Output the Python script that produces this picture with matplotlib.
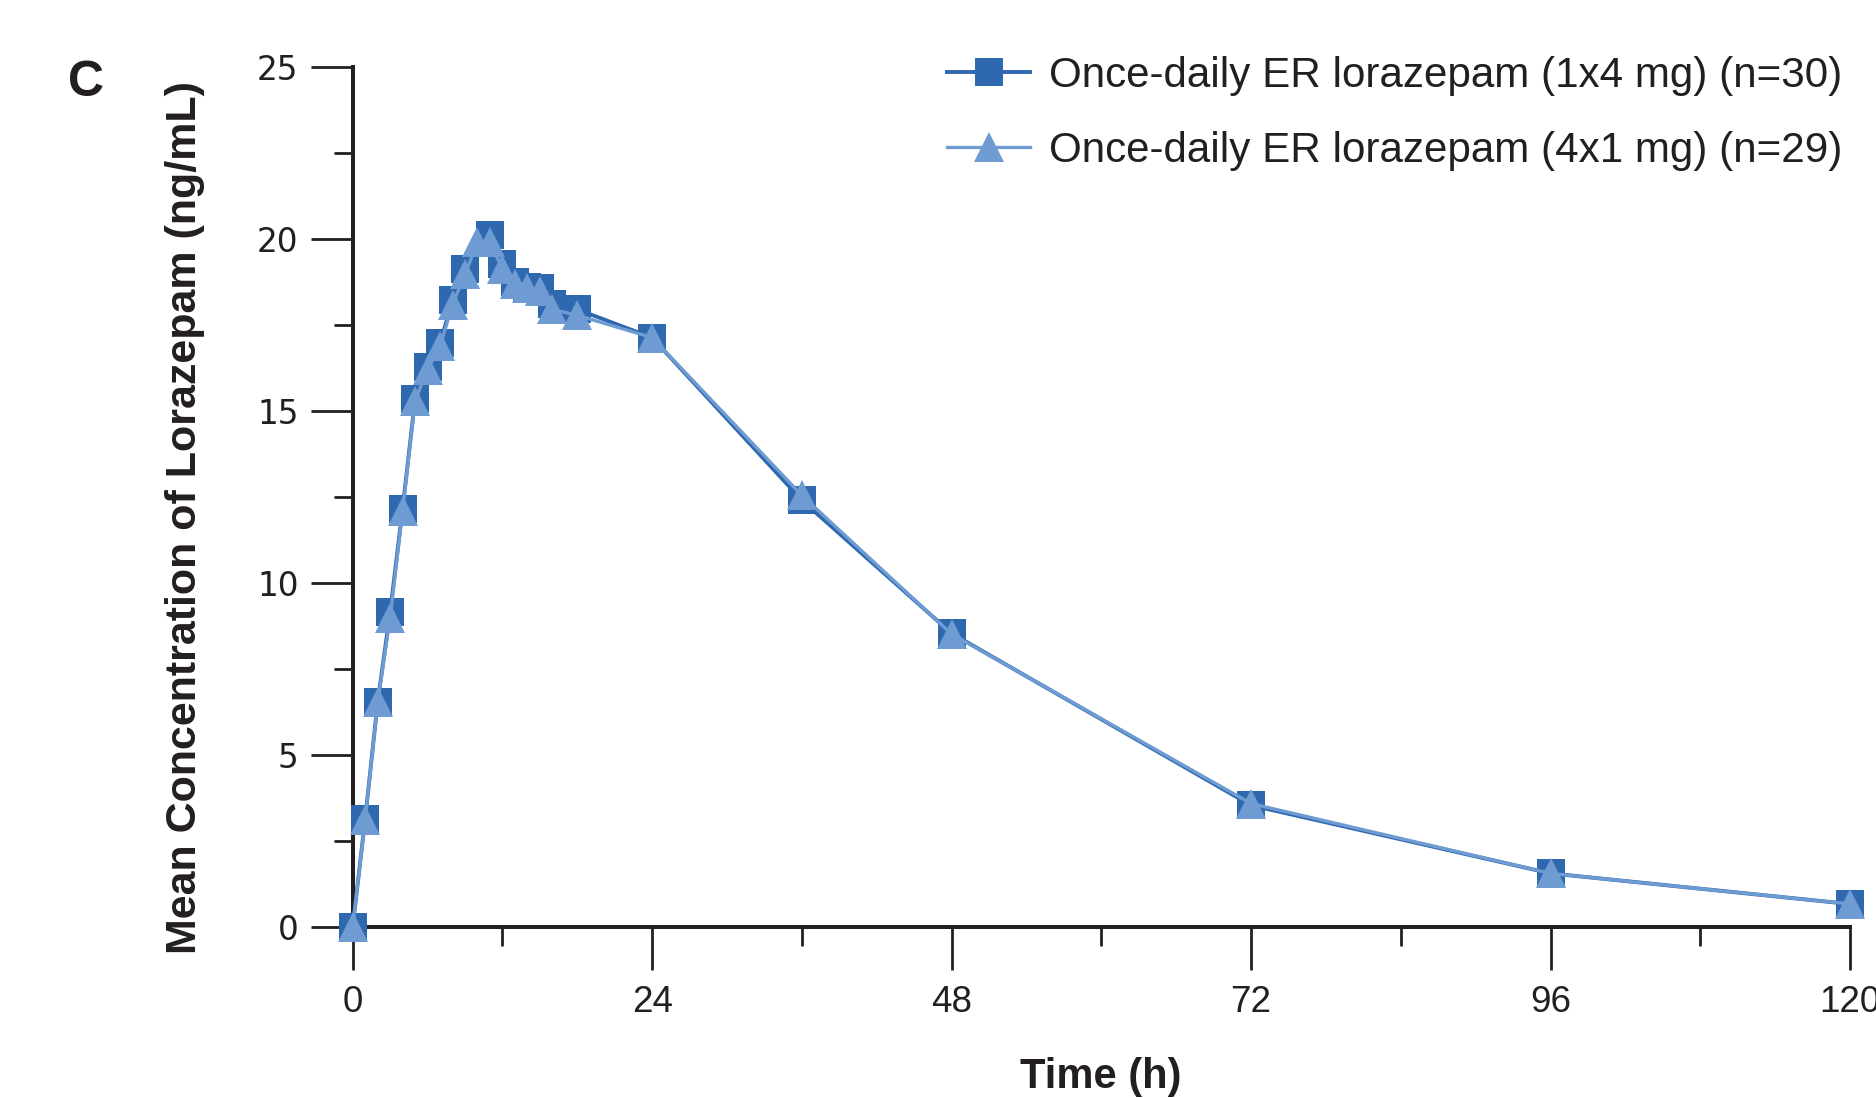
import matplotlib
matplotlib.use("Agg")
import matplotlib.pyplot as plt
from matplotlib.ticker import FixedLocator

# ---- data ----
time_1x4 = [0, 1, 2, 3, 4, 5, 6, 7, 8, 9, 11, 12, 13, 14, 15, 16, 18, 24, 36, 48, 72, 96, 120]
conc_1x4 = [0, 3.13, 6.53, 9.15, 12.16, 15.34, 16.28, 16.97, 18.21, 19.13, 20.12, 19.27,
            18.76, 18.61, 18.56, 18.11, 17.95, 17.13, 12.40, 8.53, 3.53, 1.55, 0.66]
time_4x1 = [0, 1, 2, 3, 4, 5, 6, 7, 8, 9, 10, 11, 12, 13, 14, 15, 16, 18, 24, 36, 48, 72, 96, 120]
conc_4x1 = [0, 3.11, 6.52, 8.98, 12.09, 15.30, 16.20, 16.88, 18.09, 18.97, 19.90, 19.90, 19.12,
            18.68, 18.56, 18.49, 17.95, 17.78, 17.13, 12.54, 8.51, 3.58, 1.55, 0.66]
label_1x4 = "Once-daily ER lorazepam (1x4 mg) (n=30)"
label_4x1 = "Once-daily ER lorazepam (4x1 mg) (n=29)"
x_major = [0, 24, 48, 72, 96, 120]
x_minor = [12, 36, 60, 84, 108]
y_major = [0, 5, 10, 15, 20, 25]
y_minor = [2.5, 7.5, 12.5, 17.5, 22.5]

DARK = "#2E69B0"
LIGHT = "#6E9BD2"
INK = "#231F20"

W, H = 1876, 1098
fig = plt.figure(figsize=(W / 100, H / 100), dpi=100)
x0, x1 = 352.7, 1850.0
ytop, ybot = 67.0, 926.7
ax = fig.add_axes([x0 / W, 1 - ybot / H, (x1 - x0) / W, (ybot - ytop) / H])

ax.plot(time_1x4, conc_1x4, color=DARK, lw=2.8, marker="s", ms=20.5, mfc=DARK,
        mec=DARK, mew=0, clip_on=False, zorder=3, label=label_1x4)
ax.plot(time_4x1, conc_4x1, color=LIGHT, lw=2.4, marker="^", ms=22, mfc=LIGHT,
        mec=LIGHT, mew=0, clip_on=False, zorder=4, label=label_4x1)

ax.set_xlim(0, 120)
ax.set_ylim(0, 25)
for s in ("top", "right"):
    ax.spines[s].set_visible(False)
for s in ("left", "bottom"):
    ax.spines[s].set_linewidth(2.9)
    ax.spines[s].set_color(INK)

ax.xaxis.set_major_locator(FixedLocator(x_major))
ax.xaxis.set_minor_locator(FixedLocator(x_minor))
ax.yaxis.set_major_locator(FixedLocator(y_major))
ax.yaxis.set_minor_locator(FixedLocator(y_minor))
ax.set_xticklabels([str(v) for v in x_major], fontfamily="Liberation Sans", fontsize=26.5, color=INK)
ax.set_yticklabels([str(v) for v in y_major], fontfamily="DejaVu Sans", fontsize=23.5, color=INK)
ax.tick_params(axis="x", which="major", length=31, width=2.0, color=INK, pad=11)
ax.tick_params(axis="x", which="minor", length=13.5, width=2.0, color=INK)
ax.tick_params(axis="y", which="major", length=30, width=2.0, color=INK, pad=9)
ax.tick_params(axis="y", which="minor", length=13.5, width=2.0, color=INK)

leg = ax.legend(loc="upper left", bbox_to_anchor=(947 / W, 1 - 55.5 / H),
                bbox_transform=fig.transFigure, frameon=False, borderpad=0,
                borderaxespad=0, handlelength=1.98, handletextpad=0.45,
                labelspacing=0.84, numpoints=1,
                prop={"family": "Liberation Sans", "size": 30.3})
for t in leg.get_texts():
    t.set_color(INK)

fig.text(185 / W, 1 - 517 / H, "Mean Concentration of Lorazepam (ng/mL)", rotation=90,
         ha="center", va="center", fontfamily="Liberation Sans", fontweight="bold",
         fontsize=31, color=INK)
fig.text(1101 / W, 1 - 1088 / H, "Time (h)", ha="center", va="baseline",
         fontfamily="Liberation Sans", fontweight="bold", fontsize=30, color=INK)
fig.text(86 / W, 1 - 96 / H, "C", ha="center", va="baseline",
         fontfamily="Liberation Sans", fontweight="bold", fontsize=36, color=INK)

fig.savefig("out.png", dpi=100)
